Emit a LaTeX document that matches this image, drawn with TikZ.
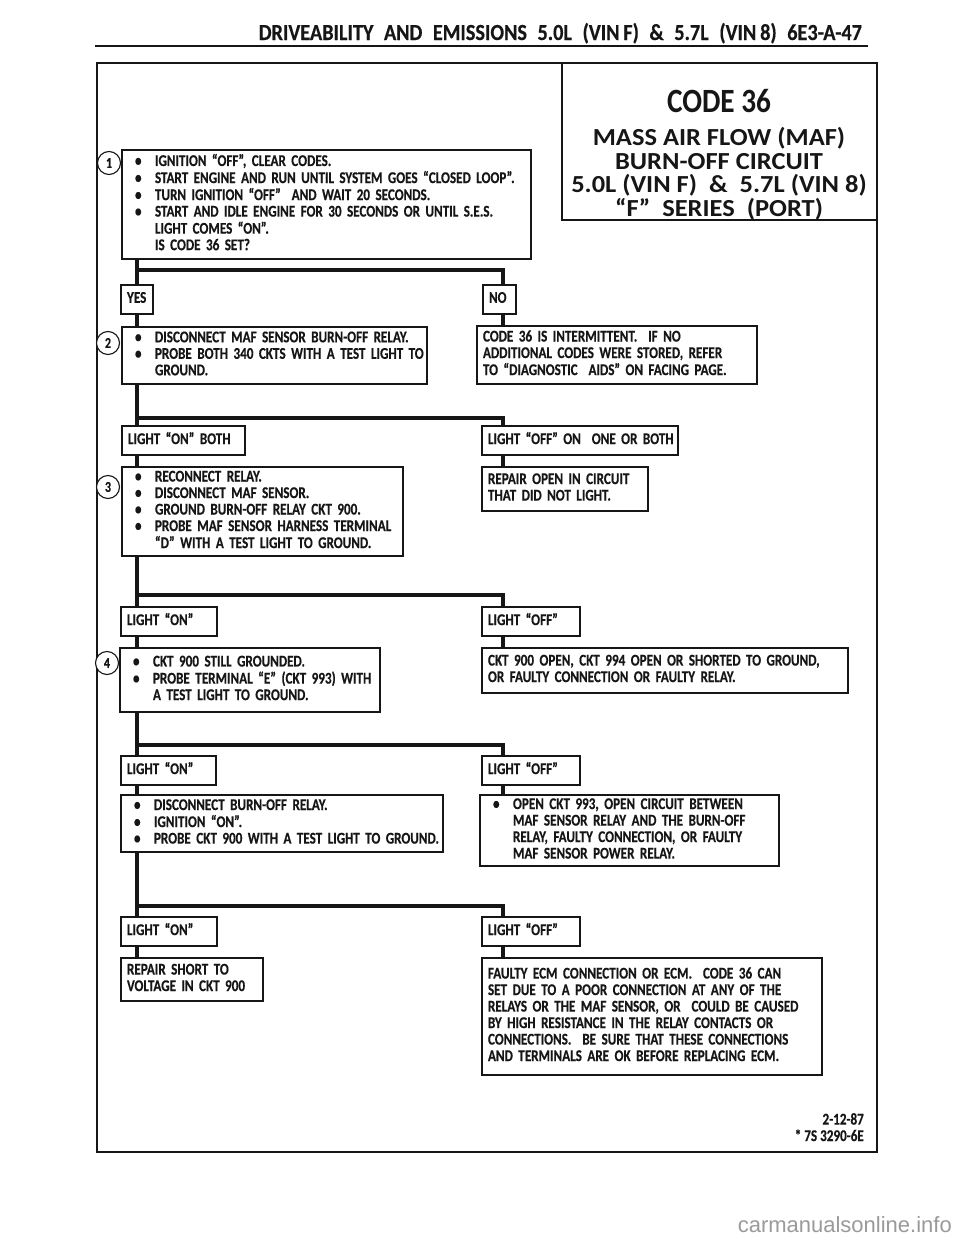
\documentclass[tikz,border=0pt]{standalone}
\usepackage{fontspec}
\setmainfont{Carlito}
\newfontfamily\condfont{Carlito}[FakeStretch=0.8, FakeBold=0.4]
\newfontfamily\hdrfont{Carlito}[FakeStretch=0.88, WordSpace=2.3, FakeBold=0.4]
\newfontfamily\titlefont{Carlito}[FakeStretch=1.08]
\newfontfamily\codefont{Carlito}[FakeStretch=0.86]
\newfontfamily\wmfont{Liberation Sans}
\usetikzlibrary{calc}
\definecolor{ink}{HTML}{161616}
\definecolor{wmgray}{HTML}{9A9A9A}
\newcommand\bodyfont{\condfont\bfseries\fontsize{16.4}{16.5}\selectfont\frenchspacing\spaceskip=3pt\relax}
\newcommand\tb{\textbullet}
\newcommand\bi{\makebox[27pt][l]{\hspace*{7pt}\tb}}
\newcommand\bc{\hspace*{27pt}}
\tikzset{
  box/.style={draw=ink, line width=1.3pt, rectangle, inner xsep=6pt, inner ysep=0pt,
    align=left, font=\bodyfont, text=ink},
  conn/.style={draw=ink, line width=3.6pt},
  num/.style={draw=ink, circle, line width=1.1pt, minimum size=23pt, inner sep=0pt,
    font=\condfont\bfseries\fontsize{15}{15}\selectfont, text=ink, fill=white},
  frame/.style={draw=ink, line width=2pt},
}
% \bx{name}{x1}{y1}{x2}{y2}{text}
\newcommand\bx[6]{%
  \pgfmathsetmacro\bxw{#4-#2}\pgfmathsetmacro\bxh{#5-#3}\pgfmathsetmacro\bxt{#4-#2-12}%
  \node[box, minimum width=\bxw pt, minimum height=\bxh pt, text width=\bxt pt]
    (#1) at ({(#2+#4)/2},{(#3+#5)/2}) {\begin{tabular}{@{}l@{}}#6\end{tabular}};}
\begin{document}
\begin{tikzpicture}[x=1pt,y=-1pt]
\useasboundingbox (0,0) rectangle (960,1242);
\fill[white] (0,0) rectangle (960,1242);

% header
\node[anchor=base east, inner sep=0pt, text=ink, font=\hdrfont\bfseries\fontsize{23}{23}\selectfont]
  (hdr) at (862,40) {DRIVEABILITY AND EMISSIONS 5.0L (VIN\,F) \& 5.7L (VIN\,8) 6E3-A-47};
\draw[frame] (95,46) -- (868,46);

% outer frame and title box
\draw[frame] (97,63) rectangle (877,1152);
\draw[frame] (562,63) -- (562,220) -- (877,220);
\node[anchor=north, inner sep=0pt, align=center, text=ink,
  font=\titlefont\bfseries\fontsize{24.5}{23.5}\selectfont] (title) at (719,89)
  {{\codefont\fontsize{34}{23.5}\selectfont CODE 36}\\[10pt]
   MASS AIR FLOW (MAF)\\
   BURN-OFF CIRCUIT\\
   5.0L (VIN F)\ \ \&\ \ 5.7L (VIN 8)\\
   “F”\ \ SERIES\ \ (PORT)};

% boxes
\bx{b1}{122}{150}{531}{259}{\bi IGNITION “OFF”, CLEAR CODES.\\
  \bi START ENGINE AND RUN UNTIL SYSTEM GOES “CLOSED LOOP”.\\
  \bi TURN IGNITION “OFF”\ \ AND WAIT 20 SECONDS.\\
  \bi START AND IDLE ENGINE FOR 30 SECONDS OR UNTIL S.E.S.\\
  \bc LIGHT COMES “ON”.\\
  \bc IS CODE 36 SET?}
\node[num] (c1) at (109,163) {1};

\bx{yes}{121}{285}{153}{314}{YES}
\bx{no}{483}{285}{516}{314}{NO}

\bx{b2}{122}{327}{427}{384}{\bi DISCONNECT MAF SENSOR BURN-OFF RELAY.\\
  \bi PROBE BOTH 340 CKTS WITH A TEST LIGHT TO\\
  \bc GROUND.}
\node[num] (c2) at (108,343) {2};
\bx{n1}{477}{326}{757}{384}{CODE 36 IS INTERMITTENT.\ \ IF NO\\
  ADDITIONAL CODES WERE STORED, REFER\\
  TO “DIAGNOSTIC\ \ AIDS” ON FACING PAGE.}

\bx{on1}{122}{426}{245}{455}{LIGHT “ON” BOTH}
\bx{off1}{482}{426}{678}{455}{LIGHT “OFF” ON\ \ ONE OR BOTH}

\bx{b3}{122}{467}{403}{556}{\bi RECONNECT RELAY.\\
  \bi DISCONNECT MAF SENSOR.\\
  \bi GROUND BURN-OFF RELAY CKT 900.\\
  \bi PROBE MAF SENSOR HARNESS TERMINAL\\
  \bc “D” WITH A TEST LIGHT TO GROUND.}
\node[num] (c3) at (108,487) {3};
\bx{r1}{482}{467}{648}{511}{REPAIR OPEN IN CIRCUIT\\ THAT DID NOT LIGHT.}

\bx{on2}{121}{607}{217}{636}{LIGHT “ON”}
\bx{off2}{482}{607}{580}{636}{LIGHT “OFF”}

\bx{b4}{120}{648}{380}{712}{\bi CKT 900 STILL GROUNDED.\\
  \bi PROBE TERMINAL “E” (CKT 993) WITH\\
  \bc A TEST LIGHT TO GROUND.}
\node[num] (c4) at (107,663) {4};
\bx{r2}{482}{648}{848}{693}{CKT 900 OPEN, CKT 994 OPEN OR SHORTED TO GROUND,\\
  OR FAULTY CONNECTION OR FAULTY RELAY.}

\bx{on3}{121}{756}{216}{785}{LIGHT “ON”}
\bx{off3}{482}{756}{580}{785}{LIGHT “OFF”}

\bx{b5}{121}{795}{443}{852}{\bi DISCONNECT BURN-OFF RELAY.\\
  \bi IGNITION “ON”.\\
  \bi PROBE CKT 900 WITH A TEST LIGHT TO GROUND.}
\bx{r3}{480}{795}{779}{866}{\bi OPEN CKT 993, OPEN CIRCUIT BETWEEN\\
  \bc MAF SENSOR RELAY AND THE BURN-OFF\\
  \bc RELAY, FAULTY CONNECTION, OR FAULTY\\
  \bc MAF SENSOR POWER RELAY.}

\bx{on4}{121}{917}{217}{946}{LIGHT “ON”}
\bx{off4}{482}{917}{580}{946}{LIGHT “OFF”}

\bx{b6}{121}{958}{263}{1001}{REPAIR SHORT TO\\ VOLTAGE IN CKT 900}
\bx{r4}{482}{958}{822}{1075}{FAULTY ECM CONNECTION OR ECM.\ \ CODE 36 CAN\\
  SET DUE TO A POOR CONNECTION AT ANY OF THE\\
  RELAYS OR THE MAF SENSOR, OR\ \ COULD BE CAUSED\\
  BY HIGH RESISTANCE IN THE RELAY CONTACTS OR\\
  CONNECTIONS.\ \ BE SURE THAT THESE CONNECTIONS\\
  AND TERMINALS ARE OK BEFORE REPLACING ECM.}

% trunk positions and bars
\coordinate (L) at (137,0);
\coordinate (R) at (503,0);
\coordinate (k1) at (137,270);
\coordinate (k2) at (137,418);
\coordinate (k3) at (137,595);
\coordinate (k4) at (137,745);
\coordinate (k5) at (137,906);

% connectors
\draw[conn] (b1.south -| L) -- (yes.north -| L);
\draw[conn] (k1) -| (no.north -| R);
\draw[conn] (yes.south -| L) -- (b2.north -| L);
\draw[conn] (no.south -| R) -- (n1.north -| R);
\draw[conn] (b2.south -| L) -- (on1.north -| L);
\draw[conn] (k2) -| (off1.north -| R);
\draw[conn] (on1.south -| L) -- (b3.north -| L);
\draw[conn] (off1.south -| R) -- (r1.north -| R);
\draw[conn] (b3.south -| L) -- (on2.north -| L);
\draw[conn] (k3) -| (off2.north -| R);
\draw[conn] (on2.south -| L) -- (b4.north -| L);
\draw[conn] (off2.south -| R) -- (r2.north -| R);
\draw[conn] (b4.south -| L) -- (on3.north -| L);
\draw[conn] (k4) -| (off3.north -| R);
\draw[conn] (on3.south -| L) -- (b5.north -| L);
\draw[conn] (off3.south -| R) -- (r3.north -| R);
\draw[conn] (b5.south -| L) -- (on4.north -| L);
\draw[conn] (k5) -| (off4.north -| R);
\draw[conn] (on4.south -| L) -- (b6.north -| L);
\draw[conn] (off4.south -| R) -- (r4.north -| R);

% footer
\node[anchor=north east, inner sep=0pt, align=right, text=ink,
  font=\bodyfont] (foot) at (864,1113)
  {2-12-87\\ * 7S 3290-6E};

% watermark
\node[anchor=base east, inner sep=0pt, text=wmgray, font=\wmfont\fontsize{22}{22}\selectfont]
  (wm) at (952,1232) {carmanualsonline.info};
\end{tikzpicture}
\end{document}
